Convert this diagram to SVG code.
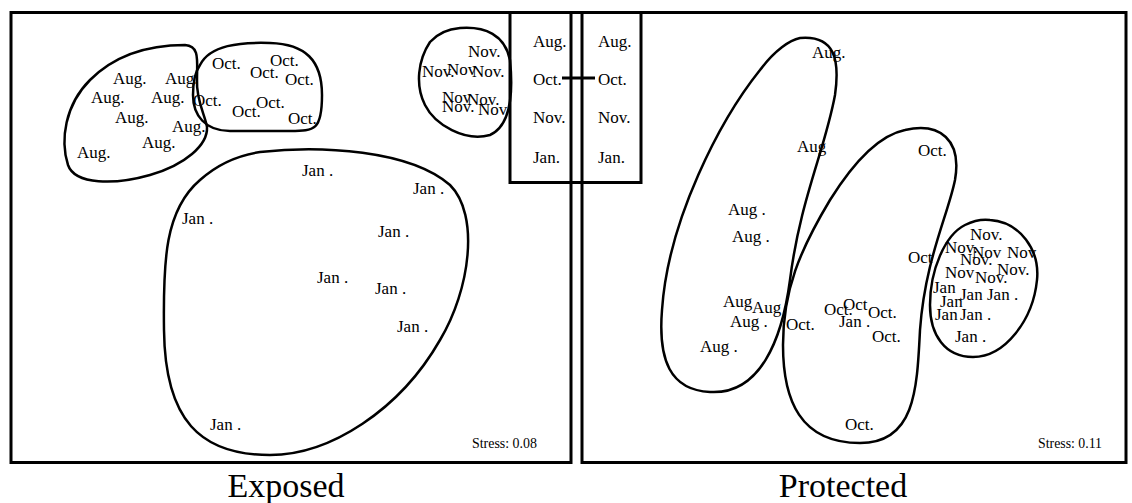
<svg xmlns="http://www.w3.org/2000/svg" width="1132" height="503" viewBox="0 0 1132 503">
<style>
.frame{fill:none;stroke:#000;stroke-width:3}
.blob{fill:none;stroke:#000;stroke-width:2.5}
.lb{font-family:"Liberation Serif","Times New Roman",serif;font-size:17px;fill:#000}
.st{font-family:"Liberation Serif","Times New Roman",serif;font-size:15px;fill:#000}
.ti{font-family:"Liberation Serif","Times New Roman",serif;font-size:34px;fill:#000;text-anchor:middle}
</style>
<rect width="1132" height="503" fill="#fff"/>
<g id="frames">
<rect class="frame" x="11" y="12.5" width="560" height="450"/>
<rect class="frame" x="582" y="12.5" width="544" height="450"/>
<rect class="frame" x="510" y="12.5" width="131" height="170"/>
</g>
<g id="exposed-aug">
<path class="blob" d="M 185,45 C 200,46 197,60 197,80 C 196,100 205,115 207,127 C 208,145 185,165 150,175 C 115,185 75,185 68,165 C 60,140 65,105 90,80 C 110,60 140,45 185,45 Z"/>
<text class="lb" x="113" y="84">Aug.</text>
<text class="lb" x="165" y="84">Aug.</text>
<text class="lb" x="91" y="103">Aug.</text>
<text class="lb" x="151" y="103">Aug.</text>
<text class="lb" x="115" y="123">Aug.</text>
<text class="lb" x="172" y="132">Aug.</text>
<text class="lb" x="142" y="148">Aug.</text>
<text class="lb" x="77" y="158">Aug.</text>
</g>
<g id="exposed-oct">
<path class="blob" d="M 200,65 C 210,45 240,42 270,43 C 305,44 322,60 322,95 C 322,130 315,131 290,131 L 230,131 C 205,131 193,115 193,95 C 193,80 195,72 200,65 Z"/>
<text class="lb" x="212" y="69">Oct.</text>
<text class="lb" x="270" y="66">Oct.</text>
<text class="lb" x="250" y="78">Oct.</text>
<text class="lb" x="285" y="85">Oct.</text>
<text class="lb" x="193" y="106">Oct.</text>
<text class="lb" x="256" y="108">Oct.</text>
<text class="lb" x="232" y="117">Oct.</text>
<text class="lb" x="288" y="124">Oct.</text>
</g>
<g id="exposed-nov">
<path class="blob" d="M 460,28 C 485,26 505,35 510,60 C 513,90 512,125 490,135 C 465,142 435,125 425,105 C 415,85 418,60 430,42 C 438,33 448,29 460,28 Z"/>
<text class="lb" x="468" y="57">Nov.</text>
<text class="lb" x="422" y="77">Nov.</text>
<text class="lb" x="447" y="75">Nov</text>
<text class="lb" x="472" y="77">Nov.</text>
<text class="lb" x="442" y="103">Nov</text>
<text class="lb" x="467" y="105">Nov.</text>
<text class="lb" x="442" y="112">Nov.</text>
<text class="lb" x="478" y="115">Nov</text>
</g>
<g id="exposed-jan">
<path class="blob" d="M 260,152 C 320,145 410,150 450,185 C 480,215 470,290 440,340 C 400,410 330,455 270,455 C 200,455 165,420 164,330 C 163,260 165,210 200,180 C 220,162 240,155 260,152 Z"/>
<text class="lb" x="302" y="176">Jan .</text>
<text class="lb" x="413" y="194">Jan .</text>
<text class="lb" x="182" y="224">Jan .</text>
<text class="lb" x="378" y="237">Jan .</text>
<text class="lb" x="317" y="283">Jan .</text>
<text class="lb" x="375" y="294">Jan .</text>
<text class="lb" x="397" y="332">Jan .</text>
<text class="lb" x="210" y="430">Jan .</text>
</g>
<g id="legend">
<text class="lb" x="533" y="47">Aug.</text>
<text class="lb" x="533" y="85">Oct.</text>
<text class="lb" x="533" y="123">Nov.</text>
<text class="lb" x="533" y="163">Jan.</text>
<text class="lb" x="598" y="47">Aug.</text>
<text class="lb" x="598" y="85">Oct.</text>
<text class="lb" x="598" y="123">Nov.</text>
<text class="lb" x="598" y="163">Jan.</text>
</g>
<g id="connectors">
<line x1="562" y1="78" x2="595" y2="78" stroke="#000" stroke-width="3"/>
</g>
<g id="protected-aug">
<path class="blob" d="M 800,38 C 835,35 840,60 835,95 C 825,150 800,200 790,280 C 782,340 760,395 710,392 C 670,390 658,360 662,310 C 668,220 720,120 760,70 C 775,50 790,40 800,38 Z"/>
<text class="lb" x="812" y="58">Aug.</text>
<text class="lb" x="797" y="152">Aug</text>
<text class="lb" x="728" y="215">Aug .</text>
<text class="lb" x="732" y="242">Aug .</text>
<text class="lb" x="723" y="307">Aug</text>
<text class="lb" x="752" y="313">Aug</text>
<text class="lb" x="730" y="327">Aug .</text>
<text class="lb" x="700" y="352">Aug .</text>
</g>
<g id="protected-oct">
<path class="blob" d="M 905,130 C 940,122 962,140 955,180 C 948,215 925,260 920,330 C 917,390 915,443 860,443 C 800,443 783,400 783,345 C 783,290 800,250 830,200 C 855,160 880,135 905,130 Z"/>
<text class="lb" x="918" y="156">Oct.</text>
<text class="lb" x="908" y="263">Oct</text>
<text class="lb" x="786" y="330">Oct.</text>
<text class="lb" x="824" y="315">Oct.</text>
<text class="lb" x="843" y="310">Oct</text>
<text class="lb" x="868" y="318">Oct.</text>
<text class="lb" x="839" y="327">Jan .</text>
<text class="lb" x="872" y="342">Oct.</text>
<text class="lb" x="845" y="430">Oct.</text>
</g>
<g id="protected-novjan">
<path class="blob" d="M 990,220 C 1020,222 1040,250 1037,280 C 1033,320 1005,357 973,357 C 945,357 930,335 930,305 C 930,270 945,235 965,225 C 975,220 982,219 990,220 Z"/>
<text class="lb" x="970" y="240">Nov.</text>
<text class="lb" x="945" y="253">Nov.</text>
<text class="lb" x="972" y="258">Nov</text>
<text class="lb" x="1007" y="258">Nov</text>
<text class="lb" x="960" y="265">Nov.</text>
<text class="lb" x="997" y="275">Nov.</text>
<text class="lb" x="945" y="278">Nov</text>
<text class="lb" x="975" y="283">Nov.</text>
<text class="lb" x="933" y="293">Jan</text>
<text class="lb" x="960" y="300">Jan</text>
<text class="lb" x="987" y="300">Jan .</text>
<text class="lb" x="940" y="307">Jan</text>
<text class="lb" x="935" y="320">Jan</text>
<text class="lb" x="960" y="320">Jan .</text>
<text class="lb" x="955" y="342">Jan .</text>
</g>
<g id="captions">
<text class="st" x="472" y="448" textLength="65" lengthAdjust="spacingAndGlyphs">Stress: 0.08</text>
<text class="st" x="1038" y="448" textLength="64" lengthAdjust="spacingAndGlyphs">Stress: 0.11</text>
<text class="ti" x="286" y="497">Exposed</text>
<text class="ti" x="843" y="497">Protected</text>
</g>
</svg>
